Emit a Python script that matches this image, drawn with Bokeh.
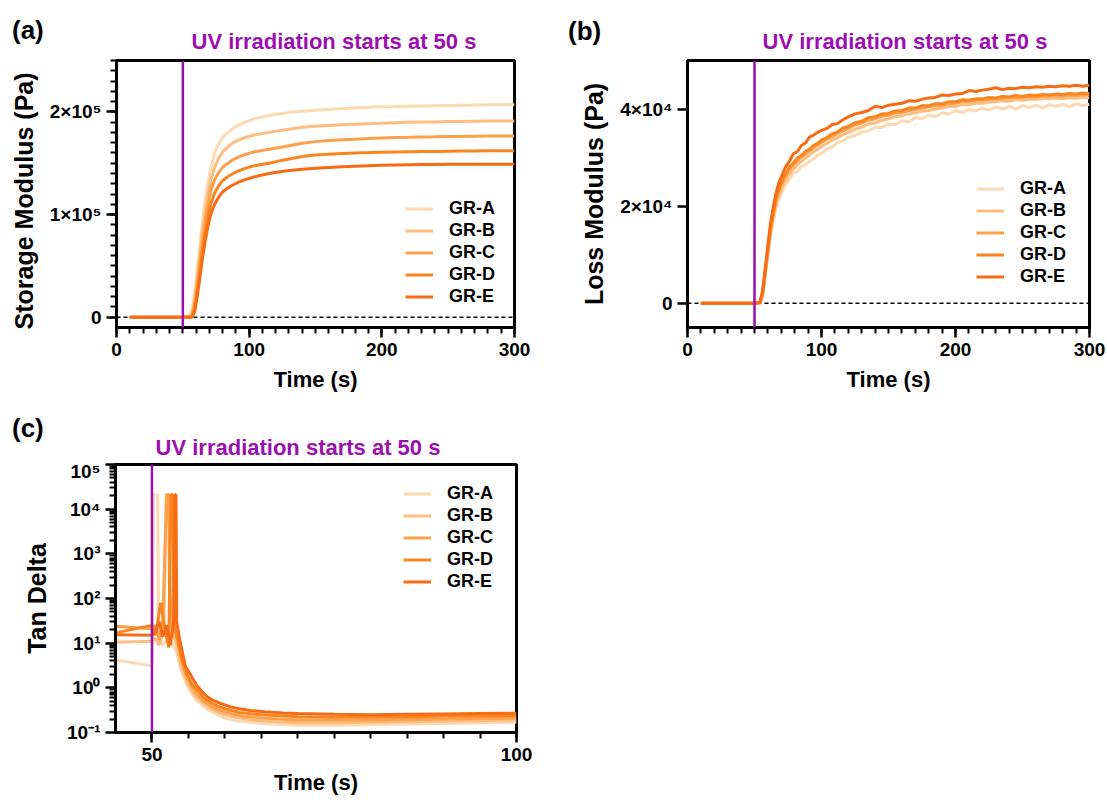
import numpy as np
from bokeh.plotting import figure
from bokeh.layouts import column, row
from bokeh.models import (Span, Div, Legend, LegendItem, FixedTicker, Range1d,
                          CustomJSTickFormatter)
from bokeh.embed import file_html
from bokeh.resources import INLINE

FONT = "Liberation Sans"
PURPLE = "#9B0FB0"
COLORS = ["#FDD8B0", "#FDBD80", "#FCA04A", "#FA8520", "#F76B15"]
NAMES = ["GR-A", "GR-B", "GR-C", "GR-D", "GR-E"]
TITLE = "UV irradiation starts at 50 s"
UV_START = 50

# ---------------- (a) Storage modulus, values in 1e5 Pa ----------------
G_SCALE = 1e5
t_a = [10, 50, 55, 57, 59, 61, 63, 65, 67, 69, 71, 74, 77, 80, 84, 88, 92, 97, 102, 108,
       115, 122, 130, 140, 150, 160, 170, 180, 190, 200, 210, 220, 230, 240, 250, 260, 270,
       280, 290, 300]
gA = [0, 0, 0.01, 0.08, 0.25, 0.48, 0.72, 0.95, 1.15, 1.32, 1.45, 1.60, 1.69, 1.75, 1.80,
      1.84, 1.87, 1.90, 1.925, 1.945, 1.965, 1.98, 1.995, 2.005, 2.015, 2.025, 2.03, 2.04,
      2.045, 2.05, 2.052, 2.055, 2.058, 2.06, 2.062, 2.064, 2.066, 2.068, 2.07, 2.07]
gB = [0, 0, 0, 0.04, 0.17, 0.40, 0.63, 0.86, 1.05, 1.20, 1.33, 1.46, 1.55, 1.61, 1.66,
      1.70, 1.725, 1.75, 1.77, 1.785, 1.80, 1.815, 1.83, 1.85, 1.86, 1.868, 1.875, 1.88,
      1.885, 1.89, 1.895, 1.898, 1.90, 1.902, 1.905, 1.906, 1.908, 1.91, 1.91, 1.91]
gC = [0, 0, 0, 0.02, 0.12, 0.32, 0.54, 0.76, 0.95, 1.10, 1.23, 1.34, 1.41, 1.46, 1.50,
      1.535, 1.56, 1.585, 1.605, 1.62, 1.635, 1.65, 1.67, 1.695, 1.71, 1.72, 1.728, 1.734,
      1.74, 1.745, 1.75, 1.752, 1.755, 1.757, 1.76, 1.761, 1.763, 1.765, 1.765, 1.765]
gD = [0, 0, 0, 0.01, 0.09, 0.26, 0.46, 0.67, 0.84, 0.98, 1.10, 1.21, 1.28, 1.33, 1.37,
      1.40, 1.425, 1.45, 1.47, 1.485, 1.50, 1.52, 1.54, 1.565, 1.58, 1.588, 1.594, 1.60,
      1.603, 1.607, 1.61, 1.612, 1.614, 1.615, 1.617, 1.618, 1.619, 1.62, 1.62, 1.62]
gE = [0, 0, 0, 0.0, 0.06, 0.21, 0.40, 0.59, 0.75, 0.89, 1.00, 1.10, 1.17, 1.22, 1.26,
      1.29, 1.315, 1.34, 1.36, 1.38, 1.40, 1.415, 1.428, 1.44, 1.45, 1.458, 1.465, 1.47,
      1.475, 1.48, 1.483, 1.485, 1.487, 1.488, 1.489, 1.49, 1.49, 1.49, 1.49, 1.49]

# ---------------- (b) Loss modulus, values in 1e4 Pa ----------------
L_SCALE = 1e4
t_b = [10, 50, 54, 56, 58, 60, 62, 64, 66, 68, 70, 73, 76, 79, 82, 85, 88, 91, 94, 97, 100,
       104, 108, 112, 116, 120, 125, 130, 135, 140, 145, 150, 155, 160, 165, 170, 175, 180,
       185, 190, 195, 200, 205, 210, 215, 220, 225, 230, 235, 240, 245, 250, 255, 260, 265,
       270, 275, 280, 285, 290, 295, 300]
lA = [0, 0, 0, 0.12, 0.55, 0.98, 1.40, 1.70, 1.95, 2.13, 2.27, 2.43, 2.55, 2.67, 2.72,
      2.82, 2.85, 2.93, 2.97, 3.05, 3.08, 3.18, 3.22, 3.31, 3.34, 3.42, 3.45, 3.53, 3.55,
      3.62, 3.62, 3.69, 3.68, 3.76, 3.74, 3.82, 3.80, 3.88, 3.84, 3.92, 3.90, 3.97, 3.93,
      3.99, 3.96, 4.02, 3.98, 4.04, 4.00, 4.06, 4.00, 4.07, 4.03, 4.08, 4.02, 4.09, 4.06,
      4.10, 4.05, 4.11, 4.07, 4.10]
lB = [0, 0, 0.0, 0.15, 0.59, 1.04, 1.46, 1.78, 2.03, 2.22, 2.36, 2.52, 2.66, 2.76, 2.85,
      2.92, 2.99, 3.05, 3.12, 3.17, 3.23, 3.29, 3.36, 3.41, 3.47, 3.52, 3.58, 3.63, 3.69,
      3.71, 3.77, 3.80, 3.84, 3.86, 3.90, 3.92, 3.96, 3.97, 4.00, 4.02, 4.05, 4.05, 4.09,
      4.09, 4.12, 4.12, 4.14, 4.15, 4.17, 4.16, 4.19, 4.18, 4.20, 4.20, 4.21, 4.22, 4.22,
      4.21, 4.23, 4.22, 4.24, 4.23]
lC = [0, 0, 0.01, 0.18, 0.62, 1.08, 1.52, 1.83, 2.10, 2.29, 2.44, 2.61, 2.74, 2.85, 2.93,
      3.01, 3.07, 3.14, 3.20, 3.26, 3.31, 3.38, 3.43, 3.50, 3.55, 3.60, 3.67, 3.71, 3.77,
      3.80, 3.85, 3.87, 3.92, 3.93, 3.97, 3.99, 4.02, 4.04, 4.07, 4.08, 4.11, 4.12, 4.15,
      4.15, 4.18, 4.18, 4.20, 4.21, 4.22, 4.23, 4.24, 4.24, 4.26, 4.25, 4.27, 4.27, 4.28,
      4.27, 4.29, 4.28, 4.30, 4.29]
lD = [0, 0, 0.01, 0.20, 0.66, 1.12, 1.56, 1.87, 2.15, 2.33, 2.50, 2.65, 2.80, 2.89, 2.99,
      3.04, 3.13, 3.17, 3.25, 3.29, 3.36, 3.41, 3.49, 3.53, 3.61, 3.64, 3.72, 3.75, 3.82,
      3.84, 3.90, 3.91, 3.96, 3.97, 4.02, 4.02, 4.07, 4.07, 4.11, 4.11, 4.15, 4.15, 4.19,
      4.18, 4.21, 4.21, 4.24, 4.23, 4.26, 4.25, 4.28, 4.26, 4.29, 4.28, 4.30, 4.29, 4.31,
      4.30, 4.32, 4.31, 4.33, 4.32]
lE = [0, 0, 0.02, 0.25, 0.72, 1.20, 1.66, 1.98, 2.26, 2.47, 2.60, 2.80, 2.92, 3.08, 3.12,
      3.25, 3.30, 3.42, 3.46, 3.52, 3.56, 3.60, 3.68, 3.70, 3.78, 3.84, 3.90, 3.93, 3.97,
      4.06, 4.03, 4.08, 4.10, 4.12, 4.17, 4.16, 4.20, 4.23, 4.24, 4.29, 4.28, 4.31, 4.32,
      4.38, 4.36, 4.39, 4.41, 4.44, 4.40, 4.43, 4.42, 4.45, 4.44, 4.46, 4.45, 4.47, 4.46,
      4.48, 4.47, 4.49, 4.47, 4.49]

# ---------------- (c) Tan delta ----------------
tdA_t = [45, 50, 50.2, 50.8, 50.9, 51.5, 52.2, 52.8, 53.4, 54.0, 54.5, 55.0, 55.5, 56.0, 57.0,
         58.0, 59.0, 60.0, 62.0, 65.0, 70.0, 75.0, 80.0, 85.0, 90.0, 95.0, 100.0]
tdA = [4.2, 3.1, 21000, 21000, 12, 9, 14, 10, 6, 2.5, 1.5, 1.0, 0.75, 0.55, 0.40, 0.30,
       0.25, 0.21, 0.18, 0.16, 0.145, 0.145, 0.15, 0.155, 0.16, 0.165, 0.17]
tdB_t = [45, 50, 50.4, 51.0, 51.6, 52.0, 52.4, 52.5, 53.0, 53.5, 54.0, 54.5, 55.0, 55.5, 56.0,
         57.0, 58.0, 59.0, 60.0, 62.0, 65.0, 70.0, 75.0, 80.0, 85.0, 90.0, 95.0, 100.0]
tdB = [10.5, 11, 13, 9, 20, 21000, 21000, 30, 15, 8, 3, 1.8, 1.2, 0.85, 0.65, 0.46, 0.35,
       0.29, 0.25, 0.21, 0.18, 0.165, 0.165, 0.17, 0.175, 0.18, 0.185, 0.19]
tdC_t = [45, 50, 50.5, 51.0, 51.5, 52.0, 52.3, 52.4, 52.8, 53.3, 53.7, 54.1, 54.6, 55.1, 55.6,
         56.1, 57.0, 58.0, 59.0, 60.0, 62.0, 65.0, 70.0, 75.0, 80.0, 85.0, 90.0, 95.0, 100.0]
tdC = [24, 21, 25, 12, 35, 21000, 21000, 200, 20, 30, 10, 4, 2.2, 1.4, 1.0, 0.75, 0.52, 0.40,
       0.33, 0.29, 0.24, 0.21, 0.19, 0.19, 0.19, 0.195, 0.20, 0.205, 0.21]
tdD_t = [45, 50, 50.5, 51.2, 51.8, 52.3, 52.6, 52.9, 53.0, 53.5, 54.0, 54.5, 55.0, 55.5, 56.0,
         56.5, 57.0, 58.0, 59.0, 60.0, 62.0, 65.0, 70.0, 75.0, 80.0, 85.0, 90.0, 95.0, 100.0]
tdD = [17, 25, 15, 80, 20, 8, 21000, 21000, 25, 12, 5, 2.6, 1.7, 1.2, 0.95, 0.8, 0.62, 0.47,
       0.39, 0.34, 0.28, 0.25, 0.225, 0.22, 0.22, 0.225, 0.23, 0.235, 0.24]
tdE_t = [45, 50, 50.5, 51.0, 51.5, 52.0, 52.5, 53.0, 53.15, 53.3, 53.4, 53.8, 54.2, 54.6, 55.2,
         55.6, 56.2, 56.8, 57.5, 58.3, 59.5, 60.8, 62.0, 63.5, 65.5, 68.0, 70.0, 75.0, 80.0,
         85.0, 90.0, 95.0, 100.0]
tdE = [15.5, 15, 18, 30, 14, 25, 9, 30, 21000, 21000, 30, 12, 6, 3, 2.1, 1.6, 1.1, 0.85,
       0.65, 0.53, 0.44, 0.375, 0.34, 0.31, 0.29, 0.275, 0.266, 0.255, 0.25, 0.255, 0.26,
       0.265, 0.27]


def style_axes(p):
    p.xgrid.visible = False
    p.ygrid.visible = False
    p.outline_line_color = "black"
    p.outline_line_width = 3
    p.outline_line_alpha = 1
    p.background_fill_color = "white"
    p.border_fill_color = "white"
    for ax in p.axis:
        ax.axis_line_width = 3
        ax.axis_line_color = "black"
        ax.major_tick_line_width = 2.5
        ax.minor_tick_line_width = 2
        ax.major_tick_in = 0
        ax.major_tick_out = 10
        ax.minor_tick_in = 0
        ax.minor_tick_out = 6
        ax.major_label_text_font = FONT
        ax.major_label_text_font_size = "19px"
        ax.major_label_text_font_style = "bold"
        ax.major_label_text_color = "black"
        ax.major_label_standoff = 5
        ax.axis_label_text_font = FONT
        ax.axis_label_text_font_style = "bold"
        ax.axis_label_text_color = "black"
    for ax in p.xaxis:
        ax.axis_label_text_font_size = "22px"
        ax.axis_label_standoff = 8
    for ax in p.yaxis:
        ax.axis_label_text_font_size = "25px"
        ax.axis_label_standoff = 9


def add_legend(p, renderers, loc):
    items = [LegendItem(label=n, renderers=[r]) for n, r in zip(NAMES, renderers)]
    leg = Legend(items=items, location=loc, glyph_width=28, glyph_height=21,
                 label_height=21, label_standoff=16, spacing=1, padding=0, margin=0,
                 border_line_alpha=0, background_fill_alpha=0,
                 label_text_font=FONT, label_text_font_size="18px",
                 label_text_font_style="bold", label_text_color="black")
    p.add_layout(leg)


def header_div(width, height, items):
    parts = []
    for cx, cy, text, size, color, align in items:
        top = cy - size // 2
        if align == "center":
            parts.append(
                f'<div style="position:absolute;left:{cx - 160}px;top:{top}px;width:320px;'
                f'text-align:center;font-size:{size}px;line-height:{size}px;color:{color};'
                f'white-space:nowrap;">{text}</div>')
        else:
            parts.append(
                f'<div style="position:absolute;left:{cx}px;top:{top}px;'
                f'font-size:{size}px;line-height:{size}px;color:{color};'
                f'white-space:nowrap;">{text}</div>')
    html = (f'<div style="position:relative;width:{width}px;height:{height}px;overflow:hidden;'
            f'font-family:\'{FONT}\', Arial, sans-serif;font-weight:bold;">'
            + "".join(parts) + "</div>")
    return Div(text=html, width=width, height=height, margin=(0, 0, 0, 0))


# ---------------- header above (a) and (b) ----------------
hab = header_div(1107, 56, [
    (12, 30, "(a)", 26, "black", "left"),
    (334, 42, TITLE, 22, PURPLE, "center"),
    (568, 31, "(b)", 26, "black", "left"),
    (905, 42, TITLE, 22, PURPLE, "center"),
])

# ---------------- figure (a) ----------------
pa = figure(width=550, height=356, x_range=Range1d(0, 300), y_range=Range1d(-10000, 250000),
            output_backend="svg", toolbar_location=None,
            min_border_left=116, min_border_right=36, min_border_top=4, min_border_bottom=85)
style_axes(pa)
pa.xaxis.ticker = FixedTicker(ticks=[0, 100, 200, 300], minor_ticks=list(range(0, 301, 10)))
pa.yaxis.ticker = FixedTicker(ticks=[0, 100000, 200000],
                              minor_ticks=list(range(0, 250001, 10000)))
pa.yaxis.formatter = CustomJSTickFormatter(
    code="if (tick == 0) { return '0'; } return (tick/1e5).toFixed(0) + '\u00d710\u2075';")
pa.xaxis.axis_label = "Time (s)"
pa.yaxis.axis_label = "Storage  Modulus  (Pa)"
pa.add_layout(Span(location=0, dimension="width", line_color="black", line_dash="4 3",
                   line_width=1.3, level="underlay"))
pa.add_layout(Span(location=UV_START, dimension="height", line_color=PURPLE, line_width=2.5))
ra = []
for vals, c in zip([gA, gB, gC, gD, gE], COLORS):
    ra.append(pa.line(t_a, np.array(vals) * G_SCALE, line_color=c, line_width=3))
add_legend(pa, ra, (289, 20))

# ---------------- figure (b) ----------------
pb = figure(width=557, height=356, x_range=Range1d(0, 300), y_range=Range1d(-5000, 50000),
            output_backend="svg", toolbar_location=None,
            min_border_left=137, min_border_right=18, min_border_top=4, min_border_bottom=85)
style_axes(pb)
pb.xaxis.ticker = FixedTicker(ticks=[0, 100, 200, 300], minor_ticks=list(range(0, 301, 10)))
pb.yaxis.ticker = FixedTicker(ticks=[0, 20000, 40000], minor_ticks=[])
pb.yaxis.formatter = CustomJSTickFormatter(
    code="if (tick == 0) { return '0'; } return (tick/1e4).toFixed(0) + '\u00d710\u2074';")
pb.xaxis.axis_label = "Time (s)"
pb.yaxis.axis_label = "Loss Modulus (Pa)"
pb.add_layout(Span(location=0, dimension="width", line_color="black", line_dash="4 3",
                   line_width=1.3, level="underlay"))
pb.add_layout(Span(location=UV_START, dimension="height", line_color=PURPLE, line_width=2.5))
rb = []
for vals, c in zip([lA, lB, lC, lD, lE], COLORS):
    rb.append(pb.line(t_b, np.array(vals) * L_SCALE, line_color=c, line_width=3))
add_legend(pb, rb, (289, 40))

# ---------------- header above (c) ----------------
hc = header_div(550, 48, [
    (12, 16, "(c)", 26, "black", "left"),
    (298, 36, TITLE, 22, PURPLE, "center"),
])

# ---------------- figure (c) ----------------
pc = figure(width=550, height=342, x_range=Range1d(45, 100), y_range=Range1d(0.1, 1e5),
            y_axis_type="log", output_backend="svg", toolbar_location=None,
            min_border_left=115, min_border_right=34, min_border_top=4, min_border_bottom=70)
style_axes(pc)
pc.xaxis.ticker = FixedTicker(ticks=[50, 100], minor_ticks=list(range(50, 101, 5)))
decades = [0.1, 1, 10, 100, 1000, 10000, 100000]
pc.yaxis.ticker = FixedTicker(ticks=decades,
                              minor_ticks=[m * d for d in decades[:-1] for m in range(2, 10)])
pc.yaxis.formatter = CustomJSTickFormatter(code="""
const e = Math.round(Math.log10(tick));
const sup = {'-': '\u207b', '0': '\u2070', '1': '\u00b9', '2': '\u00b2', '3': '\u00b3',
             '4': '\u2074', '5': '\u2075', '6': '\u2076', '7': '\u2077', '8': '\u2078', '9': '\u2079'};
return '10' + String(e).split('').map(c => sup[c]).join('');
""")
pc.xaxis.axis_label = "Time (s)"
pc.xaxis.axis_label_standoff = 6
pc.yaxis.axis_label = "Tan Delta"
pc.yaxis.axis_label_standoff = 13
pc.add_layout(Span(location=UV_START, dimension="height", line_color=PURPLE, line_width=2.5))
rc = []
for tt, vals, c in zip([tdA_t, tdB_t, tdC_t, tdD_t, tdE_t], [tdA, tdB, tdC, tdD, tdE], COLORS):
    rc.append(pc.line(tt, vals, line_color=c, line_width=3))
add_legend(pc, rc, (288, 140))

layout = column(hab, row(pa, pb), hc, pc)
open("out.html", "w").write(file_html(layout, INLINE))
